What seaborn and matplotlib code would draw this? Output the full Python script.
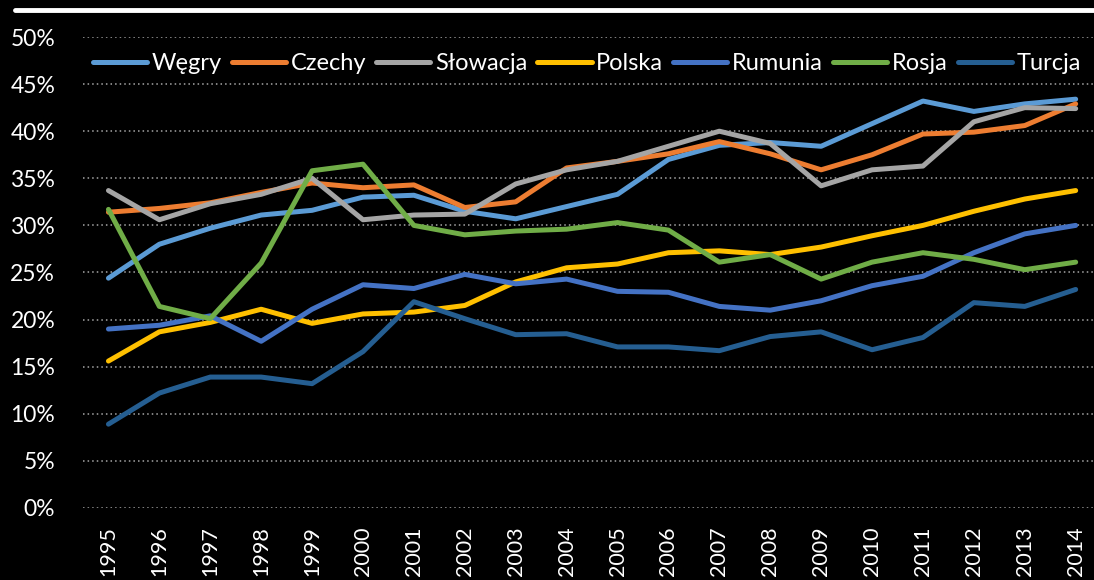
import matplotlib
matplotlib.use("Agg")
import matplotlib.pyplot as plt
from matplotlib.lines import Line2D
import seaborn as sns
import pandas as pd
from matplotlib.ticker import FuncFormatter, MultipleLocator

years = list(range(1995, 2015))
wegry = [24.4, 28.0, 29.7, 31.1, 31.6, 33.0, 33.2, 31.5, 30.7, 32.0, 33.3, 37.0, 38.5, 38.8, 38.4, 40.8, 43.2, 42.1, 42.9, 43.4]
czechy = [31.4, 31.8, 32.4, 33.5, 34.5, 34.0, 34.3, 31.9, 32.5, 36.1, 36.8, 37.6, 38.9, 37.6, 35.9, 37.5, 39.7, 39.9, 40.6, 42.9]
slowacja = [33.7, 30.6, 32.3, 33.3, 35.0, 30.6, 31.1, 31.2, 34.4, 35.9, 36.8, 38.4, 40.0, 38.7, 34.2, 35.9, 36.3, 41.0, 42.5, 42.4]
polska = [15.6, 18.7, 19.7, 21.1, 19.6, 20.6, 20.8, 21.5, 24.0, 25.5, 25.9, 27.1, 27.3, 26.9, 27.7, 28.9, 30.0, 31.5, 32.8, 33.7]
rumunia = [19.0, 19.4, 20.4, 17.7, 21.1, 23.7, 23.3, 24.8, 23.8, 24.3, 23.0, 22.9, 21.4, 21.0, 22.0, 23.6, 24.6, 27.1, 29.1, 30.0]
rosja = [31.7, 21.4, 20.1, 26.0, 35.8, 36.5, 30.0, 29.0, 29.4, 29.6, 30.3, 29.5, 26.1, 26.9, 24.3, 26.1, 27.1, 26.4, 25.3, 26.1]
turcja = [8.9, 12.2, 13.9, 13.9, 13.2, 16.6, 21.9, 20.1, 18.4, 18.5, 17.1, 17.1, 16.7, 18.2, 18.7, 16.8, 18.1, 21.8, 21.4, 23.2]

series_names = ["Węgry", "Czechy", "Słowacja", "Polska", "Rumunia", "Rosja", "Turcja"]
series_values = [wegry, czechy, slowacja, polska, rumunia, rosja, turcja]
colors = ["#5B9BD5", "#ED7D31", "#A5A5A5", "#FFC000", "#4472C4", "#70AD47", "#255E91"]

rows = []
for name, vals in zip(series_names, series_values):
    for i, (yr, v) in enumerate(zip(years, vals)):
        rows.append({"idx": i, "year": str(yr), "kraj": name, "val": v / 100.0})
df = pd.DataFrame(rows)

sns.set_style("dark")
plt.rcParams["font.family"] = ["Lato", "DejaVu Sans"]

fig = plt.figure(figsize=(10.94, 5.8), dpi=100, facecolor="black")
ax = fig.add_axes([83 / 1094, 1 - 508 / 580, 1 - 83 / 1094, (508 - 37) / 580])
ax.set_facecolor("black")

sns.lineplot(data=df, x="idx", y="val", hue="kraj", hue_order=series_names,
             palette=colors, linewidth=3.6, ax=ax, solid_capstyle="round")

ax.set_xlim(-0.5, 19.36)
ax.set_ylim(0, 0.5)
ax.yaxis.set_major_locator(MultipleLocator(0.05))
ax.yaxis.set_major_formatter(FuncFormatter(lambda v, p: f"{v*100:.0f}%"))
ax.set_xticks(range(len(years)))
ax.set_xticklabels([str(y) for y in years], rotation=90)
ax.tick_params(axis="both", colors="white", labelsize=16.5, length=0)
ax.tick_params(axis="x", labelsize=15.5, pad=13)
ax.tick_params(axis="y", pad=20)
ax.set_xlabel("")
ax.set_ylabel("")
for s in ax.spines.values():
    s.set_visible(False)
ax.grid(False)
ax.yaxis.grid(True, color="#A6A6A6", linestyle=(0, (1, 2)), linewidth=1.1)
ax.set_axisbelow(True)

leg = ax.legend(loc="upper left", bbox_to_anchor=(0.005, 0.975), ncol=7, frameon=False,
                fontsize=17, handlelength=2.29, handletextpad=0.2, columnspacing=0.43,
                borderaxespad=0.0, borderpad=0.2)
for t in leg.get_texts():
    t.set_color("white")
for h in leg.get_lines():
    h.set_linewidth(3.6)
    h.set_solid_capstyle("round")

fig.add_artist(Line2D([15 / 1094, 1.0], [1 - 10 / 580, 1 - 10 / 580], color="white", linewidth=3.5))

fig.savefig("out.png", dpi=100, facecolor="black")
